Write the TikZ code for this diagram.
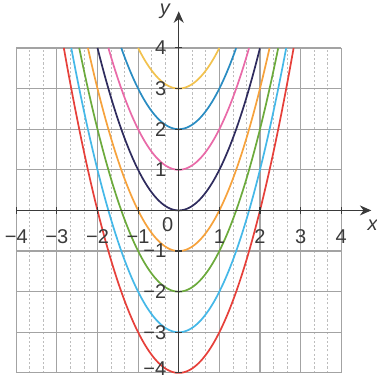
\documentclass[tikz,border=0pt]{standalone}
\usepackage{fontspec}
\setmainfont{Liberation Sans}
\usetikzlibrary{arrows.meta}
\definecolor{gridgray}{HTML}{A3A3A3}
\definecolor{minorgray}{HTML}{BDBDBD}
\definecolor{axisgray}{HTML}{3A3A3A}
\definecolor{cyel}{HTML}{F2C24E}
\definecolor{cblu}{HTML}{2A8CC2}
\definecolor{cpnk}{HTML}{E96AA8}
\definecolor{cnav}{HTML}{2F2C5E}
\definecolor{corg}{HTML}{F6A23C}
\definecolor{cgrn}{HTML}{6CAA3C}
\definecolor{ccya}{HTML}{45B8E8}
\definecolor{cred}{HTML}{E6403A}

\begin{document}
\begin{tikzpicture}[x=1cm,y=1cm,
	minorgrid/.style={minorgray,line width=0.5pt,dash pattern=on 1.5pt off 1.5pt},
	gridline/.style={gridgray,line width=0.8pt},
	curve/.style={line width=1.2pt,samples=120,smooth},
	axis/.style={axisgray,line width=0.8pt},
	lbl/.style={font=\fontsize{14}{16}\selectfont,text=axisgray,inner sep=0pt}]
	\useasboundingbox (-4.40,-4.15) rectangle (4.865,5.18);
	% grid
	\foreach \k in {-12,...,12} {
		\pgfmathtruncatemacro\r{mod(abs(\k),3)}
		\ifnum\r>0 \draw[minorgrid] (\k/3,-4) -- (\k/3,4); \fi
	}
	\draw[gridline] (-4,-4) grid (4,4);
	% parabolas y = x^2 + c
	\foreach \c/\col in {3/cyel,2/cblu,1/cpnk,0/cnav,-1/corg,-2/cgrn,-3/ccya,-4/cred} {
		\pgfmathsetmacro\xm{sqrt(4-\c)}
		\draw[curve,\col,domain=-\xm:\xm] plot (\x,{\x*\x+\c});
	}
	% axes
	\coordinate (xs) at (-4,0);
	\coordinate (xe) at (4.74,0);
	\coordinate (ys) at (0,-4);
	\coordinate (ye) at (0,4.9);
	\draw[axis,-{Stealth[length=8pt,width=7pt]}] (xs) -- (xe);
	\draw[axis,-{Stealth[length=8pt,width=7pt]}] (ys) -- (ye);
	\node[lbl,font=\fontsize{14}{16}\selectfont\itshape] (xlab) at (4.77,-0.36) {x};
	\node[lbl,font=\fontsize{14}{16}\selectfont\itshape] (ylab) at (-0.34,4.89) {y};
	\foreach \k in {-4,...,-1,1,2,...,4} {
		\draw[axis] (\k,-0.08) -- (\k,0.08);
		\draw[axis] (-0.08,\k) -- (0.08,\k);
	}
	\foreach \k/\t in {-4/−4,-3/−3,-2/−2,-1/−1,1/1,2/2,3/3,4/4} {
		\node[lbl] (xt\k) at (\k,-0.65) {\t};
	}
	\foreach \k/\t in {-3/−3,-2/−2,-1/−1,1/1,2/2,3/3,4/4} {
		\node[lbl,anchor=east] (yt\k) at (-0.3,\k) {\t};
	}
	\node[lbl,anchor=east] (yt-4) at (-0.3,-3.9) {−4};
	\node[lbl] (orig) at (-0.27,-0.36) {0};
\end{tikzpicture}
\end{document}
